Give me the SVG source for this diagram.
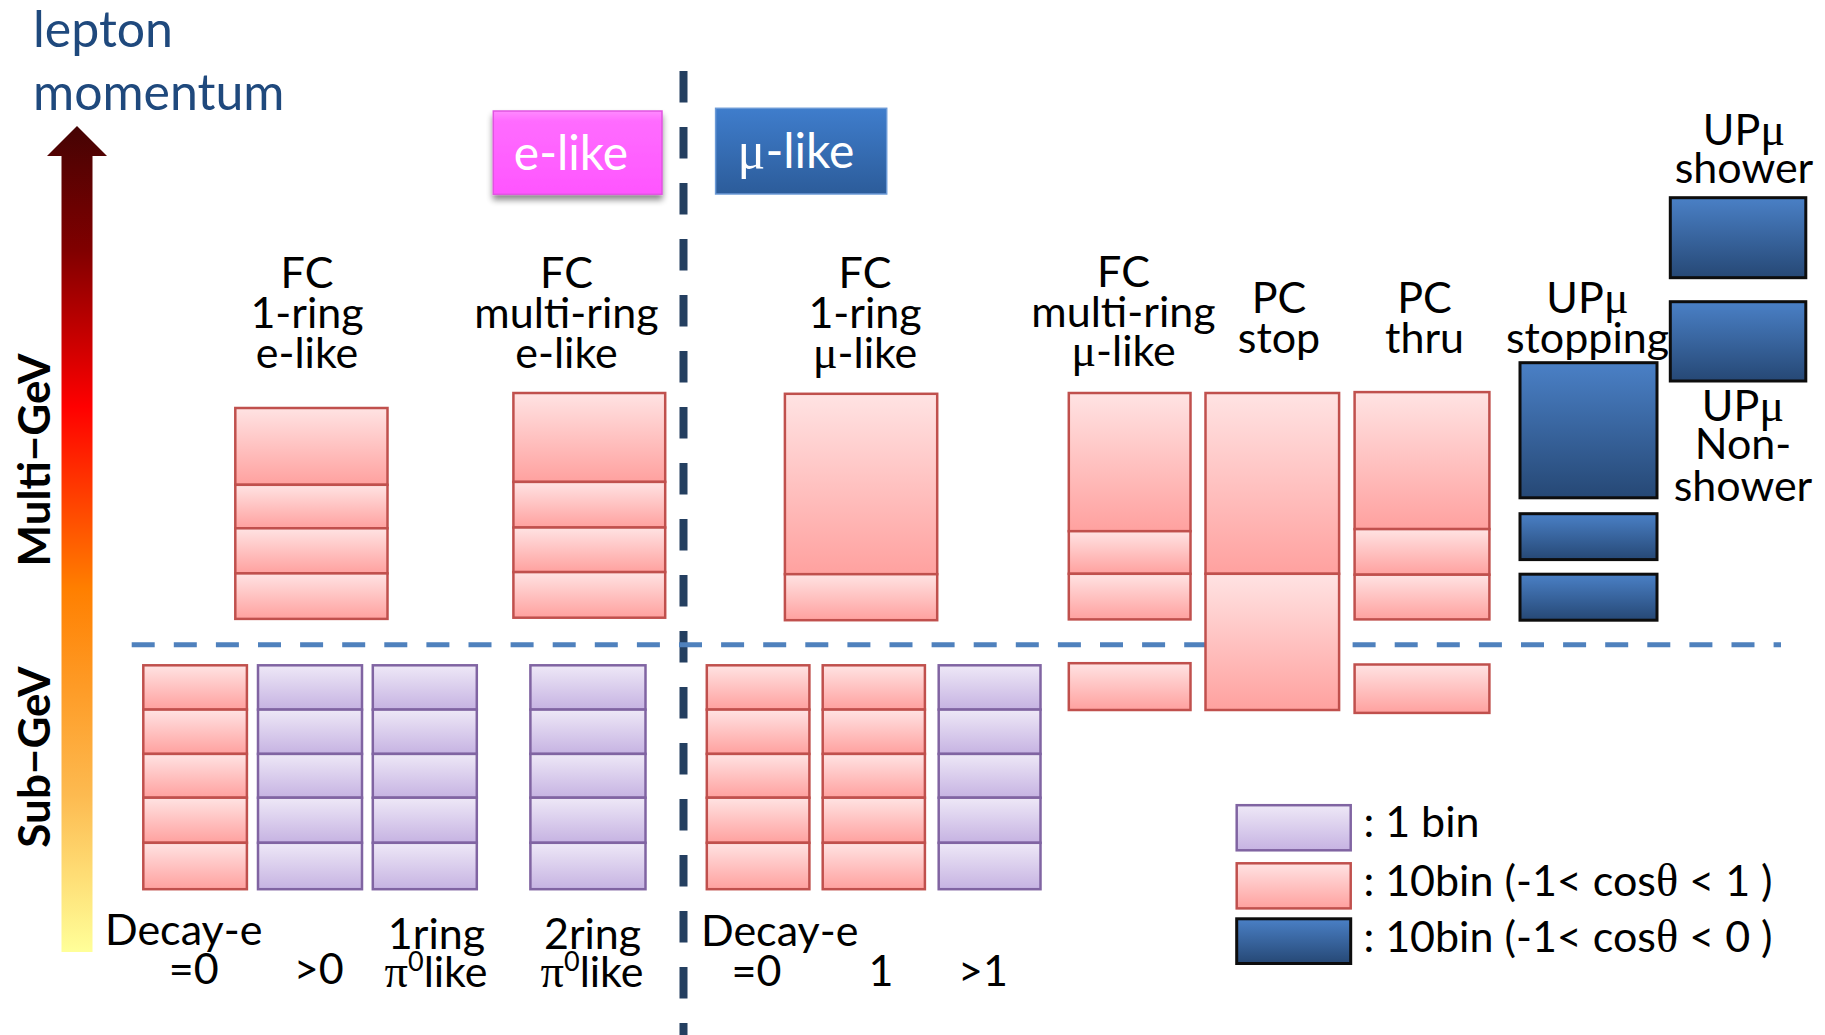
<svg xmlns="http://www.w3.org/2000/svg" width="1825" height="1035" viewBox="0 0 1825 1035">
  <defs>
    <linearGradient id="gRed" x1="0" y1="0" x2="0" y2="1">
      <stop offset="0" stop-color="#FFE3E3"/>
      <stop offset="1" stop-color="#FFA19F"/>
    </linearGradient>
    <linearGradient id="gPur" x1="0" y1="0" x2="0" y2="1">
      <stop offset="0" stop-color="#EEE8F7"/>
      <stop offset="1" stop-color="#C6B3E2"/>
    </linearGradient>
    <linearGradient id="gBlu" x1="0" y1="0" x2="0" y2="1">
      <stop offset="0" stop-color="#4A80C6"/>
      <stop offset="1" stop-color="#264875"/>
    </linearGradient>
    <linearGradient id="gMag" x1="0" y1="0" x2="0" y2="1">
      <stop offset="0" stop-color="#FF8AFF"/>
      <stop offset="0.12" stop-color="#FF6CFF"/>
      <stop offset="1" stop-color="#FF55FF"/>
    </linearGradient>
    <linearGradient id="gMu" x1="0" y1="0" x2="0" y2="1">
      <stop offset="0" stop-color="#3F7DCC"/>
      <stop offset="1" stop-color="#2C5C9A"/>
    </linearGradient>
    <linearGradient id="gAxis" gradientUnits="userSpaceOnUse" x1="0" y1="952" x2="0" y2="126">
      <stop offset="0" stop-color="#FFFF99"/>
      <stop offset="0.19" stop-color="#FDBA50"/>
      <stop offset="0.44" stop-color="#FF7F00"/>
      <stop offset="0.66" stop-color="#FF0000"/>
      <stop offset="0.85" stop-color="#800000"/>
      <stop offset="1" stop-color="#450303"/>
    </linearGradient>
    <filter id="shadow" x="-10%" y="-20%" width="120%" height="150%">
      <feGaussianBlur in="SourceAlpha" stdDeviation="3"/>
      <feOffset dx="0" dy="5" result="b"/>
      <feComponentTransfer><feFuncA type="linear" slope="0.45"/></feComponentTransfer>
      <feMerge><feMergeNode/><feMergeNode in="SourceGraphic"/></feMerge>
    </filter>
    <style>
      .lbl { font-family: Lato, "Open Sans", sans-serif; font-size: 43px; fill: #000; text-anchor: middle; }
      .lft { text-anchor: start; }
      .sym { font-family: "Liberation Serif", serif; font-size: 1.08em; }
      .sup { font-size: 27px; }
      .axis { font-family: Lato, sans-serif; font-weight: bold; font-size: 44px; fill: #000; text-anchor: middle; }
      .title { font-family: Lato, sans-serif; font-size: 50px; fill: #1F497D; }
      .tag { font-family: Lato, sans-serif; font-size: 48px; fill: #FFF; text-anchor: middle; }
      .r { fill: url(#gRed); stroke: #C0504D; stroke-width: 2.5; }
      .p { fill: url(#gPur); stroke: #8064A2; stroke-width: 2.5; }
      .b { fill: url(#gBlu); stroke: #0D0D0D; stroke-width: 3; }
    </style>
  </defs>

  <rect width="1825" height="1035" fill="#FFFFFF"/>

  <!-- momentum axis and region dividers -->
  <g id="axes">
    <text class="title" x="33" y="47">lepton</text>
    <text class="title" x="33" y="110">momentum</text>
    <polygon points="61.5,952 92.5,952 92.5,156 107,156 77,126 47,156 61.5,156" fill="url(#gAxis)"/>
    <text class="axis" transform="translate(50,460) rotate(-90)">Multi−GeV</text>
    <text class="axis" transform="translate(50,757) rotate(-90)">Sub−GeV</text>
    <line x1="683.5" y1="71" x2="683.5" y2="1035" stroke="#243F60" stroke-width="8" stroke-dasharray="31.5 24.5"/>
    <line x1="131.7" y1="644.8" x2="1781" y2="644.8" stroke="#4F81BD" stroke-width="5" stroke-dasharray="23 19.1"/>
  </g>

  <!-- flavour tags -->
  <g id="tag-elike">
    <rect x="493.3" y="111" width="168.7" height="83.3" fill="url(#gMag)" stroke="#E055E0" stroke-width="1.5" filter="url(#shadow)"/>
    <text class="tag" x="571" y="170">e-like</text>
  </g>
  <g id="tag-mulike">
    <rect x="715.6" y="108.3" width="171.1" height="85.7" fill="url(#gMu)" stroke="#6C9AD6" stroke-width="1.5"/>
    <text class="tag" x="796" y="168.3"><tspan class="sym">μ</tspan>-like</text>
  </g>

  <!-- FC 1-ring e-like -->
  <g id="fc-1ring-elike">
    <text class="lbl" x="307" y="288.3">FC</text>
    <text class="lbl" x="307" y="328.3">1-ring</text>
    <text class="lbl" x="307" y="367.7">e-like</text>
    <rect class="r" x="235.3" y="408" width="152.2" height="76.8"/>
    <rect class="r" x="235.3" y="484.8" width="152.2" height="43.5"/>
    <rect class="r" x="235.3" y="528.3" width="152.2" height="45.1"/>
    <rect class="r" x="235.3" y="573.4" width="152.2" height="45.5"/>
  </g>

  <!-- FC multi-ring e-like -->
  <g id="fc-multiring-elike">
    <text class="lbl" x="566.5" y="288.3">FC</text>
    <text class="lbl" x="566.5" y="328.3">multi-ring</text>
    <text class="lbl" x="566.5" y="367.7">e-like</text>
    <rect class="r" x="513.4" y="393" width="151.8" height="88.9"/>
    <rect class="r" x="513.4" y="481.9" width="151.8" height="45.6"/>
    <rect class="r" x="513.4" y="527.5" width="151.8" height="44.6"/>
    <rect class="r" x="513.4" y="572.1" width="151.8" height="45.6"/>
  </g>

  <!-- FC 1-ring mu-like -->
  <g id="fc-1ring-mulike">
    <text class="lbl" x="865" y="288.3">FC</text>
    <text class="lbl" x="865" y="328.3">1-ring</text>
    <text class="lbl" x="865" y="367.7"><tspan class="sym">μ</tspan>-like</text>
    <rect class="r" x="784.9" y="393.8" width="152.3" height="180.4"/>
    <rect class="r" x="784.9" y="574.2" width="152.3" height="46"/>
  </g>

  <!-- FC multi-ring mu-like -->
  <g id="fc-multiring-mulike">
    <text class="lbl" x="1123.5" y="286.7">FC</text>
    <text class="lbl" x="1123.5" y="326.7">multi-ring</text>
    <text class="lbl" x="1123.5" y="365.7"><tspan class="sym">μ</tspan>-like</text>
    <rect class="r" x="1068.8" y="393" width="121.7" height="138.2"/>
    <rect class="r" x="1068.8" y="531.2" width="121.7" height="42.6"/>
    <rect class="r" x="1068.8" y="573.8" width="121.7" height="45.6"/>
    <rect class="r" x="1068.8" y="663.2" width="121.7" height="46.8"/>
  </g>

  <!-- PC stop -->
  <g id="pc-stop">
    <text class="lbl" x="1279" y="313.3">PC</text>
    <text class="lbl" x="1279" y="353.3">stop</text>
    <rect class="r" x="1205.5" y="393" width="133.6" height="180.8"/>
    <rect class="r" x="1205.5" y="573.8" width="133.6" height="136.2"/>
  </g>

  <!-- PC thru -->
  <g id="pc-thru">
    <text class="lbl" x="1424.5" y="313.3">PC</text>
    <text class="lbl" x="1424.5" y="353.3">thru</text>
    <rect class="r" x="1354.6" y="392.1" width="134.8" height="137"/>
    <rect class="r" x="1354.6" y="529.1" width="134.8" height="45.6"/>
    <rect class="r" x="1354.6" y="574.7" width="134.8" height="44.7"/>
    <rect class="r" x="1354.6" y="664.5" width="134.8" height="48.4"/>
  </g>

  <!-- UP-mu stopping -->
  <g id="upmu-stopping">
    <text class="lbl" x="1587.5" y="313.3">UP<tspan class="sym">μ</tspan></text>
    <text class="lbl" x="1587.5" y="353.3">stopping</text>
    <rect class="b" x="1520" y="362.7" width="137" height="135.1"/>
    <rect class="b" x="1520" y="513.7" width="137" height="45.9"/>
    <rect class="b" x="1520" y="574.2" width="137" height="46"/>
  </g>

  <!-- UP-mu showering -->
  <g id="upmu-shower">
    <text class="lbl" x="1744" y="145">UP<tspan class="sym">μ</tspan></text>
    <text class="lbl" x="1744" y="183.3">shower</text>
    <rect class="b" x="1670.3" y="197.7" width="135.5" height="80"/>
  </g>

  <!-- UP-mu non-showering -->
  <g id="upmu-nonshower">
    <rect class="b" x="1670.3" y="301.7" width="135.5" height="79.3"/>
    <text class="lbl" x="1743" y="421">UP<tspan class="sym">μ</tspan></text>
    <text class="lbl" x="1743" y="459.4">Non-</text>
    <text class="lbl" x="1743" y="501">shower</text>
  </g>

  <!-- Sub-GeV e-like, decay-e = 0 -->
  <g id="subgev-e-decay0">
    <rect class="r" x="143.3" y="665.3" width="103.6" height="44.3"/>
    <rect class="r" x="143.3" y="709.6" width="103.6" height="44.3"/>
    <rect class="r" x="143.3" y="753.9" width="103.6" height="43.8"/>
    <rect class="r" x="143.3" y="797.7" width="103.6" height="45.1"/>
    <rect class="r" x="143.3" y="842.8" width="103.6" height="46.4"/>
    <text class="lbl lft" x="105" y="944.7">Decay-e</text>
    <text class="lbl" x="193.8" y="983.6">=0</text>
  </g>

  <!-- Sub-GeV e-like, decay-e > 0 -->
  <g id="subgev-e-decay1">
    <rect class="p" x="258" y="665.3" width="104" height="44.3"/>
    <rect class="p" x="258" y="709.6" width="104" height="44.3"/>
    <rect class="p" x="258" y="753.9" width="104" height="43.8"/>
    <rect class="p" x="258" y="797.7" width="104" height="45.1"/>
    <rect class="p" x="258" y="842.8" width="104" height="46.4"/>
    <text class="lbl" x="318.8" y="983.6">&gt;0</text>
  </g>

  <!-- Sub-GeV 1-ring pi0-like -->
  <g id="subgev-1ring-pi0">
    <rect class="p" x="372.8" y="665.3" width="104" height="44.3"/>
    <rect class="p" x="372.8" y="709.6" width="104" height="44.3"/>
    <rect class="p" x="372.8" y="753.9" width="104" height="43.8"/>
    <rect class="p" x="372.8" y="797.7" width="104" height="45.1"/>
    <rect class="p" x="372.8" y="842.8" width="104" height="46.4"/>
    <text class="lbl" x="436.5" y="949">1ring</text>
    <text class="lbl" x="436" y="986.5"><tspan class="sym">π</tspan><tspan class="sup" dy="-16">0</tspan><tspan dy="16">like</tspan></text>
  </g>

  <!-- Sub-GeV 2-ring pi0-like -->
  <g id="subgev-2ring-pi0">
    <rect class="p" x="530.4" y="665.3" width="115.1" height="44.3"/>
    <rect class="p" x="530.4" y="709.6" width="115.1" height="44.3"/>
    <rect class="p" x="530.4" y="753.9" width="115.1" height="43.8"/>
    <rect class="p" x="530.4" y="797.7" width="115.1" height="45.1"/>
    <rect class="p" x="530.4" y="842.8" width="115.1" height="46.4"/>
    <text class="lbl" x="592.6" y="949">2ring</text>
    <text class="lbl" x="592" y="986.5"><tspan class="sym">π</tspan><tspan class="sup" dy="-16">0</tspan><tspan dy="16">like</tspan></text>
  </g>

  <!-- Sub-GeV mu-like, decay-e = 0 -->
  <g id="subgev-mu-decay0">
    <rect class="r" x="706.8" y="665.3" width="102.6" height="44.3"/>
    <rect class="r" x="706.8" y="709.6" width="102.6" height="44.3"/>
    <rect class="r" x="706.8" y="753.9" width="102.6" height="43.8"/>
    <rect class="r" x="706.8" y="797.7" width="102.6" height="45.1"/>
    <rect class="r" x="706.8" y="842.8" width="102.6" height="46.4"/>
    <text class="lbl lft" x="701" y="946">Decay-e</text>
    <text class="lbl" x="756.5" y="985.7">=0</text>
  </g>

  <!-- Sub-GeV mu-like, decay-e = 1 -->
  <g id="subgev-mu-decay1">
    <rect class="r" x="822.7" y="665.3" width="102.2" height="44.3"/>
    <rect class="r" x="822.7" y="709.6" width="102.2" height="44.3"/>
    <rect class="r" x="822.7" y="753.9" width="102.2" height="43.8"/>
    <rect class="r" x="822.7" y="797.7" width="102.2" height="45.1"/>
    <rect class="r" x="822.7" y="842.8" width="102.2" height="46.4"/>
    <text class="lbl" x="881" y="985.7">1</text>
  </g>

  <!-- Sub-GeV mu-like, decay-e > 1 -->
  <g id="subgev-mu-decay2">
    <rect class="p" x="938.7" y="665.3" width="101.8" height="44.3"/>
    <rect class="p" x="938.7" y="709.6" width="101.8" height="44.3"/>
    <rect class="p" x="938.7" y="753.9" width="101.8" height="43.8"/>
    <rect class="p" x="938.7" y="797.7" width="101.8" height="45.1"/>
    <rect class="p" x="938.7" y="842.8" width="101.8" height="46.4"/>
    <text class="lbl" x="983" y="985.7">&gt;1</text>
  </g>

  <!-- legend -->
  <g id="legend">
    <rect class="p" x="1236.7" y="805.2" width="114" height="45.1"/>
    <rect class="r" x="1236.7" y="863.3" width="114" height="45.1"/>
    <rect class="b" x="1236.7" y="918.8" width="114" height="44.7"/>
    <text class="lbl lft" x="1363.4" y="837.4">: 1 bin</text>
    <text class="lbl lft" x="1363.4" y="895.9">: 10bin (-1&lt; cos<tspan class="sym">θ</tspan> &lt; 1 )</text>
    <text class="lbl lft" x="1363.4" y="952.3">: 10bin (-1&lt; cos<tspan class="sym">θ</tspan> &lt; 0 )</text>
  </g>
</svg>
